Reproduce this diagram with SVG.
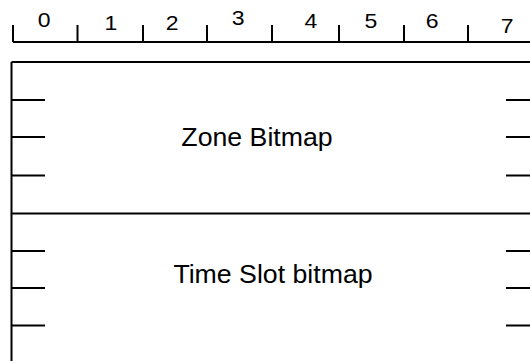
<svg xmlns="http://www.w3.org/2000/svg" width="530" height="361" viewBox="0 0 530 361">
  <style>
    .ln { stroke: #000; stroke-width: 2; fill: none; }
    .digit { font-family: "Liberation Sans", Arial, sans-serif; font-size: 20px; fill: #000; text-anchor: middle; }
    .label { font-family: "Liberation Sans", Arial, sans-serif; font-size: 26.7px; fill: #000; text-anchor: middle; }
  </style>
  <rect width="530" height="361" fill="#fff"/>

  <!-- bit ruler -->
  <g id="ruler">
    <path class="ln" d="M13 42 H530 M13 25 V42 M77.5 25 V42 M143 25 V42 M207 25 V42 M272 25 V42 M339 25 V42 M404 25 V42 M468 25 V42"/>
    <!-- bit numbers, drawn slightly wide -->
    <g transform="scale(1.15,1)">
      <text class="digit" x="38.3" y="27.5">0</text>
      <text class="digit" x="96.5" y="30.5">1</text>
      <text class="digit" x="149.6" y="30.5">2</text>
      <text class="digit" x="207" y="25">3</text>
      <text class="digit" x="270.4" y="28.5">4</text>
      <text class="digit" x="322.6" y="28.5">5</text>
      <text class="digit" x="375.7" y="28.5">6</text>
      <text class="digit" x="440.9" y="33.5">7</text>
    </g>
  </g>

  <!-- Zone Bitmap field -->
  <g id="zone-bitmap">
    <path class="ln" d="M11.5 62 H530 M11.5 62 V214"/>
    <path class="ln" d="M11 100 H45 M11 137 H45 M11 175.5 H45 M506 100 H530 M506 137 H530 M506 175.5 H530"/>
    <text class="label" x="257" y="146">Zone Bitmap</text>
  </g>

  <!-- Time Slot bitmap field -->
  <g id="time-slot-bitmap">
    <path class="ln" d="M11.5 213.5 H530 M11.5 213.5 V361"/>
    <path class="ln" d="M11 251 H45 M11 288 H45 M11 325.5 H45 M506 251 H530 M506 288 H530 M506 325.5 H530"/>
    <text class="label" x="273" y="283">Time Slot bitmap</text>
  </g>
</svg>
